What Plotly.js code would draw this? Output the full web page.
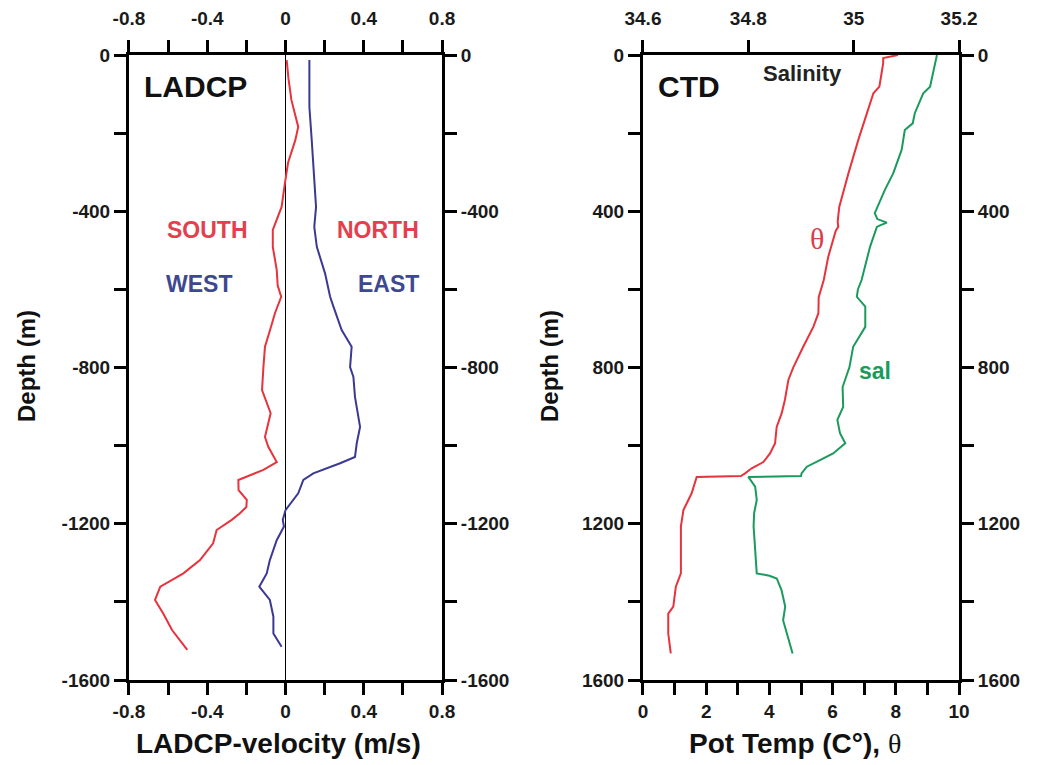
<!DOCTYPE html>
<html>
<head>
<meta charset="utf-8">
<script src="https://cdn.plot.ly/plotly-3.0.1.min.js"></script>
<style>html,body{margin:0;padding:0;background:#fff;}#chart{width:1047px;height:765px;}</style>
</head>
<body>
<div id="chart"></div>
<script>
// LADCP north velocity (red) : depth (m, negative) and velocity (m/s)
const northDepth = [-13,-60,-115,-184,-218,-276,-328,-389,-448,-491,-550,-590,-619,-640,-661,-704,-747,-799,-858,-917,-978,-1003,-1042,-1062,-1088,-1114,-1139,-1157,-1173,-1190,-1216,-1250,-1293,-1327,-1361,-1395,-1430,-1472,-1498,-1523];
const northVel   = [0.006,0.015,0.03,0.065,0.05,0.013,-0.003,-0.02,-0.065,-0.065,-0.045,-0.04,-0.022,-0.04,-0.054,-0.079,-0.105,-0.113,-0.12,-0.076,-0.105,-0.088,-0.045,-0.113,-0.241,-0.24,-0.198,-0.2,-0.233,-0.275,-0.352,-0.37,-0.437,-0.522,-0.64,-0.667,-0.625,-0.58,-0.54,-0.502];
// LADCP east velocity (blue)
const eastDepth = [-13,-133,-218,-320,-389,-440,-491,-559,-576,-619,-644,-704,-747,-799,-824,-875,-952,-994,-1029,-1045,-1071,-1088,-1122,-1165,-1190,-1207,-1242,-1293,-1327,-1361,-1395,-1438,-1481,-1515];
const eastVel   = [0.122,0.122,0.134,0.147,0.156,0.147,0.16,0.202,0.21,0.228,0.245,0.287,0.338,0.33,0.347,0.355,0.381,0.364,0.355,0.279,0.142,0.091,0.065,0.0,-0.014,-0.008,-0.045,-0.08,-0.096,-0.134,-0.08,-0.062,-0.062,-0.02];
// CTD potential temperature (red)
const thetaDepth = [0,8,21,81,98,149,218,303,389,427,440,450,517,576,620,661,696,747,799,832,883,917,952,994,1020,1042,1058,1071,1078,1080,1122,1165,1207,1327,1361,1412,1430,1481,1532];
const thetaVal   = [8.07,7.6,7.6,7.48,7.29,7.08,6.81,6.5,6.21,6.16,6.18,6.1,5.86,5.72,5.56,5.55,5.39,5.07,4.76,4.6,4.49,4.39,4.23,4.18,4.02,3.81,3.44,3.23,3.1,1.7,1.54,1.28,1.2,1.2,1.04,0.96,0.8,0.8,0.88];
// CTD salinity (green)
const salDepth = [0,47,81,98,149,175,192,243,303,346,405,420,429,436,440,491,559,576,600,619,644,696,747,799,850,901,934,968,994,1020,1037,1054,1071,1078,1080,1105,1139,1173,1207,1327,1333,1340,1370,1412,1447,1498,1532];
const salVal   = [35.158,35.151,35.145,35.132,35.116,35.112,35.097,35.091,35.075,35.059,35.04,35.045,35.063,35.05,35.044,35.031,35.018,35.015,35.008,35.006,35.022,35.022,34.999,34.992,34.979,34.98,34.969,34.974,34.984,34.961,34.936,34.911,34.901,34.9,34.8,34.813,34.816,34.811,34.81,34.816,34.84,34.854,34.863,34.87,34.866,34.876,34.884];

// tick labels
const velTicks = [-0.8,-0.6,-0.4,-0.2,0,0.2,0.4,0.6,0.8];
const velLabels = ['-0.8','','-0.4','','0','','0.4','','0.8'];
const negDepthTicks = [-1600,-1400,-1200,-1000,-800,-600,-400,-200,0];
const negDepthLabels = ['-1600','','-1200','','-800','','-400','','0'];
const posDepthTicks = [0,200,400,600,800,1000,1200,1400,1600];
const posDepthLabels = ['0','','400','','800','','1200','','1600'];
const tempTicks = [0,1,2,3,4,5,6,7,8,9,10];
const tempLabels = ['0','','2','','4','','6','','8','','10'];
const salTicks = [34.6,34.8,35.0,35.2];
const salLabels = ['34.6','34.8','35','35.2'];

const FONT = 'Liberation Sans, Arial, Helvetica, sans-serif';
const tickfont = {family: FONT, size: 19, color: '#1a1a1a', weight: 'bold'};
function ax(extra){
  return Object.assign({
    showline: true, linewidth: 3, linecolor: '#000', mirror: false,
    ticks: 'outside', ticklen: 12, tickwidth: 3, tickcolor: '#000',
    showgrid: false, zeroline: false, tickfont: tickfont, tickmode: 'array',
    fixedrange: true
  }, extra);
}
const yDom = [0.1111, 0.9281];
const leftDom = [0.1232, 0.4222];
const rightDom = [0.6141, 0.9160];

const data = [
  {x: northVel, y: northDepth, xaxis: 'x', yaxis: 'y', mode: 'lines', line: {color: '#e8323c', width: 2}, hoverinfo: 'skip'},
  {x: eastVel, y: eastDepth, xaxis: 'x3', yaxis: 'y3', mode: 'lines', line: {color: '#3a3a92', width: 2}, hoverinfo: 'skip'},
  {x: thetaVal, y: thetaDepth, xaxis: 'x2', yaxis: 'y2', mode: 'lines', line: {color: '#e8323c', width: 2}, hoverinfo: 'skip'},
  {x: salVal, y: salDepth, xaxis: 'x4', yaxis: 'y4', mode: 'lines', line: {color: '#1a9a5c', width: 2}, hoverinfo: 'skip'}
];

const layout = {
  width: 1047, height: 765,
  margin: {l: 0, r: 0, t: 0, b: 0},
  paper_bgcolor: '#fff', plot_bgcolor: '#fff',
  showlegend: false,
  xaxis: ax({domain: leftDom, range: [-0.8, 0.8], anchor: 'y', side: 'bottom', tickvals: velTicks, ticktext: velLabels,
            zeroline: true, zerolinecolor: '#000', zerolinewidth: 1}),
  xaxis3: ax({range: [-0.8, 0.8], overlaying: 'x', anchor: 'y', side: 'top', tickvals: velTicks, ticktext: velLabels, ticklabelstandoff: 7}),
  yaxis: ax({domain: yDom, range: [-1600, 0], anchor: 'x', side: 'left', tickvals: negDepthTicks, ticktext: negDepthLabels}),
  yaxis3: ax({range: [-1600, 0], overlaying: 'y', anchor: 'x', side: 'right', tickvals: negDepthTicks, ticktext: negDepthLabels}),
  xaxis2: ax({domain: rightDom, range: [0, 10], anchor: 'y2', side: 'bottom', tickvals: tempTicks, ticktext: tempLabels}),
  xaxis4: ax({range: [34.6, 35.2], overlaying: 'x2', anchor: 'y2', side: 'top', tickvals: salTicks, ticktext: salLabels, ticklabelstandoff: 7}),
  yaxis2: ax({domain: yDom, range: [1600, 0], anchor: 'x2', side: 'left', tickvals: posDepthTicks, ticktext: posDepthLabels}),
  yaxis4: ax({range: [1600, 0], overlaying: 'y2', anchor: 'x2', side: 'right', tickvals: posDepthTicks, ticktext: posDepthLabels}),
  annotations: [
    {text: 'LADCP', x: 142, y: 86, xanchor: 'left', yanchor: 'middle', font: {family: FONT, size: 30, color: '#111', weight: 'bold'}},
    {text: 'SOUTH', x: 207, y: 230, font: {family: FONT, size: 23, color: '#e2404e', weight: 'bold'}},
    {text: 'NORTH', x: 378, y: 230, font: {family: FONT, size: 23, color: '#e2404e', weight: 'bold'}},
    {text: 'WEST', x: 199, y: 284, font: {family: FONT, size: 23, color: '#3d4890', weight: 'bold'}},
    {text: 'EAST', x: 388, y: 284, font: {family: FONT, size: 23, color: '#3d4890', weight: 'bold'}},
    {text: 'CTD', x: 656, y: 86, xanchor: 'left', yanchor: 'middle', font: {family: FONT, size: 30, color: '#111', weight: 'bold'}},
    {text: 'Salinity', x: 802, y: 73, font: {family: FONT, size: 22, color: '#222', weight: 'bold'}},
    {text: 'θ', x: 817, y: 238, font: {family: 'Liberation Serif, DejaVu Serif, serif', size: 30, color: '#d8404c'}},
    {text: 'sal', x: 875, y: 371, font: {family: FONT, size: 23, color: '#1a9a5c', weight: 'bold'}},
    {text: 'Depth (m)', x: 26, y: 366, textangle: -90, font: {family: FONT, size: 24, color: '#111', weight: 'bold'}},
    {text: 'Depth (m)', x: 549, y: 366, textangle: -90, font: {family: FONT, size: 24, color: '#111', weight: 'bold'}},
    {text: 'LADCP-velocity (m/s)', x: 278, y: 743, font: {family: FONT, size: 28, color: '#111', weight: 'bold'}},
    {text: 'Pot Temp (C°), <span style="font-family:Liberation Serif, serif;font-weight:normal">θ</span>', x: 795, y: 743, font: {family: FONT, size: 28, color: '#111', weight: 'bold'}}
  ].map(a => Object.assign({xref: 'paper', yref: 'paper', showarrow: false, xanchor: 'center', yanchor: 'middle'}, a, {x: a.x / 1047, y: 1 - a.y / 765}))
};

Plotly.newPlot('chart', data, layout, {displayModeBar: false, staticPlot: true});
</script>
</body>
</html>
